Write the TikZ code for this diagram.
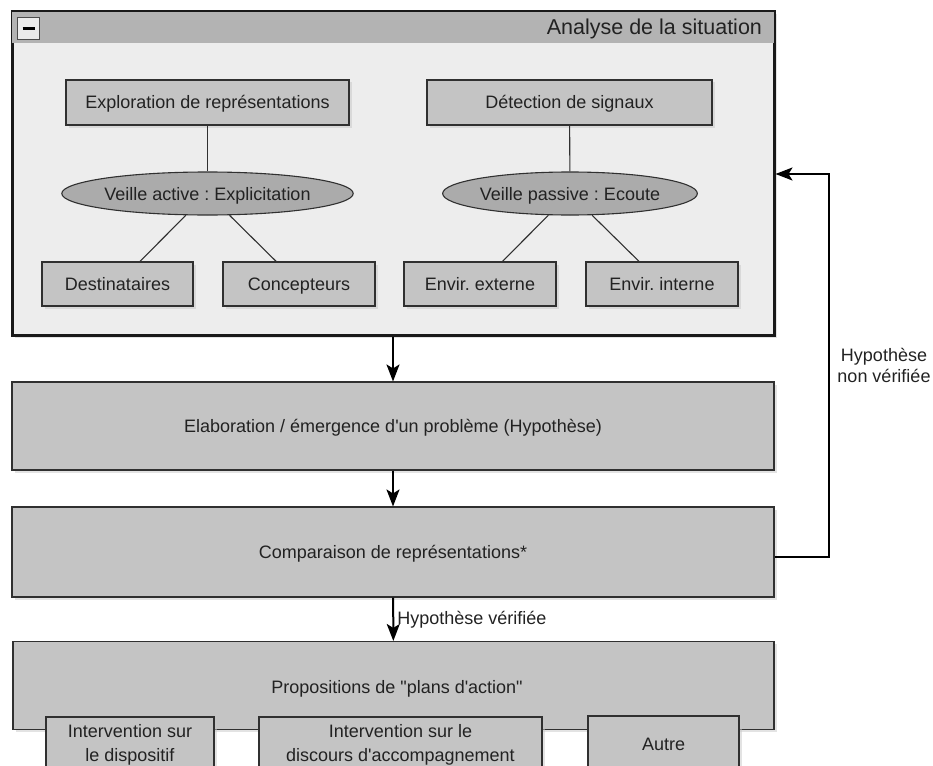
\documentclass[tikz,border=0pt]{standalone}
\usepackage{fontspec}
\setmainfont{Liberation Sans}[Ligatures=TeXOff]
\usetikzlibrary{shapes.geometric,shadows,arrows.meta}

\definecolor{boxgray}{HTML}{C4C4C4}
\definecolor{ellgray}{HTML}{ABABAB}
\definecolor{bargray}{HTML}{B3B3B3}
\definecolor{panelgray}{HTML}{EDEDED}
\definecolor{edge}{HTML}{303030}
\definecolor{ink}{HTML}{222222}

\begin{document}
\frenchspacing
\begin{tikzpicture}[x=1pt,y=-1pt,font=\fontsize{18}{21}\selectfont,text=ink,
    shade/.style={drop shadow={shadow xshift=2.5pt,shadow yshift=-2.5pt,fill=black!22}},
    box/.style={draw=edge, fill=boxgray, line width=1.1pt, inner sep=0pt, shade},
    oneline/.style={text height=14pt, text depth=1pt},
    veille/.style={ellipse, draw=edge, fill=ellgray, line width=1.1pt, inner sep=0pt, oneline},
    panel/.style={draw=black!90, fill=panelgray, line width=3pt, inner sep=0pt, shade},
    link/.style={draw=edge, line width=1.1pt},
    flow/.style={draw=black, line width=2pt, -{Stealth[length=17pt,width=13pt,inset=4pt]}}
    ]

    \clip (0,0) rectangle (933,765);

    % panel "Analyse de la situation"
    \node[panel, minimum width=762pt, minimum height=323pt] (situation) at (393,173.5) {};
    \fill[bargray] ([xshift=1.5pt,yshift=-1.5pt]situation.north west) rectangle ([xshift=-1.5pt,yshift=-33pt]situation.north east);
    \node[anchor=east, font=\fontsize{21.5}{24}\selectfont] (title) at ([xshift=-10pt,yshift=-18pt]situation.north east) {Analyse de la situation};
    \node[draw=black!70, fill=black!8, line width=1pt, minimum size=22pt, inner sep=0pt] (minus) at (28.5,28.5) {};
    \draw[line width=3pt] ([xshift=-6pt]minus.center) -- ([xshift=6pt]minus.center);

    \node[box, oneline, minimum width=283pt, minimum height=45pt] (explo) at (207.5,102.5) {Exploration de représentations};
    \node[box, oneline, minimum width=285pt, minimum height=45pt] (detect) at (569.5,102.5) {Détection de signaux};
    \node[veille, minimum width=248pt, minimum height=43pt] (active) at (207.5,193.5) {Veille active : Explicitation};
    \node[veille, minimum width=246pt, minimum height=43pt] (passive) at (570,193.5) {Veille passive : Ecoute};
    \node[box, oneline, minimum width=151pt, minimum height=44pt] (dest) at (117.5,284) {Destinataires};
    \node[box, oneline, minimum width=152pt, minimum height=44pt] (concep) at (299,284) {Concepteurs};
    \node[box, oneline, minimum width=152pt, minimum height=44pt] (extern) at (480,284) {Envir. externe};
    \node[box, oneline, minimum width=152pt, minimum height=44pt] (intern) at (662,284) {Envir. interne};

    \draw[link] (explo) -- (active);
    \draw[link] (active) -- (dest);
    \draw[link] (active) -- (concep);
    \draw[link] (detect) -- (passive);
    \draw[link] (passive) -- (extern);
    \draw[link] (passive) -- (intern);

    % main steps
    \node[box, oneline, minimum width=762pt, minimum height=88pt] (elab) at (393,426) {Elaboration / émergence d'un problème (Hypothèse)};
    \node[box, oneline, minimum width=762pt, minimum height=90pt] (comp) at (393,552) {Comparaison de représentations*};
    \node[box, minimum width=761pt, minimum height=88pt] (prop) at (393.5,685.5) {};
    \node[oneline] (proptext) at (397,687) {Propositions de "plans d'action"};
    \node[box, minimum width=168pt, minimum height=56pt, align=center, font=\fontsize{18}{23.5}\selectfont] (dispo) at (130,745) {Intervention sur\\ le dispositif};
    \node[box, minimum width=283pt, minimum height=56pt, align=center, font=\fontsize{18}{23.5}\selectfont] (discours) at (400.5,745) {Intervention sur le\\ discours d'accompagnement};
    \node[box, oneline, minimum width=151pt, minimum height=56pt] (autre) at (663.5,744) {Autre};

    \draw[flow] (situation) -- (elab);
    \draw[flow] (elab) -- (comp);
    \draw[flow] (comp) -- node[right, inner sep=3pt] (ok) {Hypothèse vérifiée} (prop);
    %
    \coordinate (back) at (829,174);
    \draw[flow] ([yshift=-5pt]comp.east) -| (back) -- (situation.east |- back);
    \node[align=center] (nok) at (884,365) {Hypothèse\\non vérifiée};
\end{tikzpicture}
\end{document}
